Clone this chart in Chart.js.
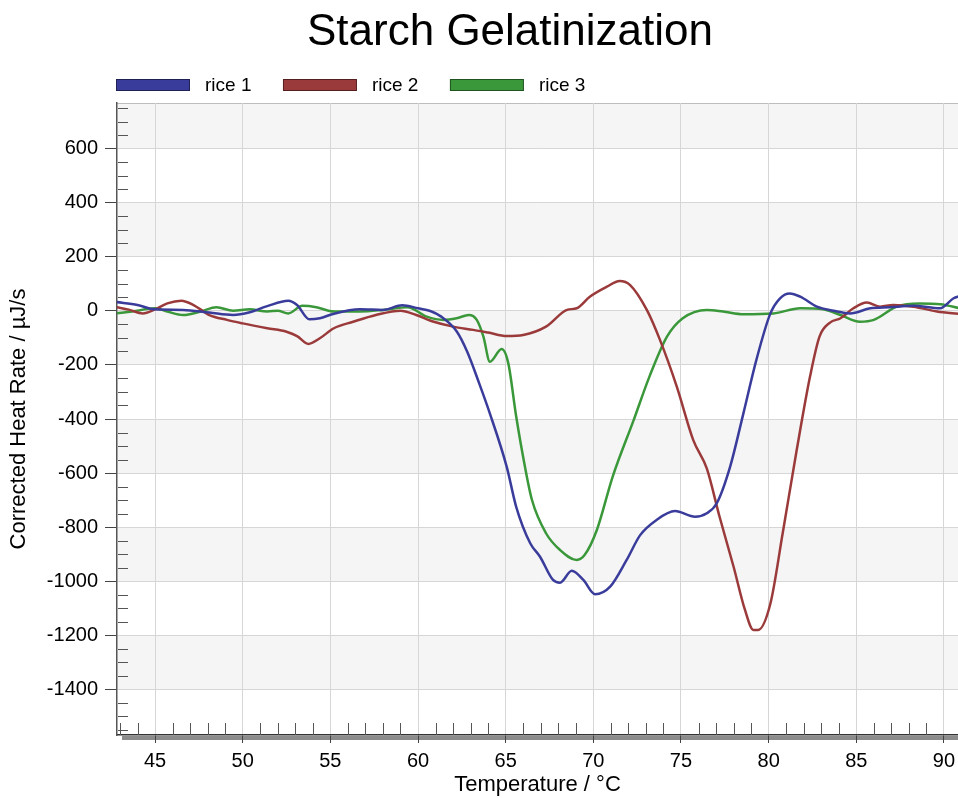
<!DOCTYPE html>
<html>
<head>
<meta charset="utf-8">
<title>Starch Gelatinization</title>
<script src="https://cdn.jsdelivr.net/npm/chart.js@4.4.1/dist/chart.umd.min.js"></script>
<style>
  html, body { margin: 0; padding: 0; background: #fff; }
  #chart { display: block; }
</style>
</head>
<body>
<canvas id="chart" width="958" height="798"></canvas>
<script>
/* Starch Gelatinization — DSC curves of three rice samples */

const chartTitle = 'Starch Gelatinization';
const xTitle = 'Temperature / °C';
const yTitle = 'Corrected Heat Rate / µJ/s';

const seriesNames = ['rice 1', 'rice 2', 'rice 3'];
const seriesColors = ['rgb(58, 60, 155)', 'rgb(155, 58, 58)', 'rgb(58, 152, 58)'];

// temperature (°C) / heat rate (µJ/s) pairs
const rice1Temp = [42.8, 44.0, 45.0, 46.6, 48.1, 49.45, 50.4, 51.4, 52.6, 53.1, 53.8, 54.4, 55.15, 56.7, 58.0, 59.1, 60.0, 60.7, 61.3, 62.2, 62.8, 63.5, 64.1, 65.06, 65.6, 66.4, 66.96, 67.7, 68.1, 68.77, 69.43, 70.1, 70.96, 71.9, 72.67, 73.6, 74.66, 75.8, 76.47, 77.04, 77.8, 78.56, 79.3, 80.1, 80.65, 81.2, 81.8, 82.75, 83.7, 84.65, 85.8, 86.9, 88.26, 89.78, 90.55, 90.9];
const rice1Heat = [33, 22, 6, 4, -6, -15, -5, 18, 38, 22, -31, -27, -11, 6, 4, 21, 10, 0, -20, -75, -150, -270, -380, -577, -725, -860, -910, -996, -1006, -962, -996, -1049, -1021, -922, -830, -774, -741, -762, -749, -712, -577, -379, -181, -9, 47, 65, 53, 16, 1, -9, 10, 14, 19, 10, 47, 55];

const rice2Temp = [42.8, 43.5, 44.3, 45.0, 45.7, 46.5, 47.2, 48.1, 49.1, 50.0, 51.4, 52.5, 53.1, 53.75, 54.4, 55.2, 56.3, 57.6, 59.0, 59.9, 60.9, 62.0, 63.15, 64.0, 65.06, 66.0, 67.3, 68.5, 69.05, 69.8, 70.77, 71.5, 72.1, 73.05, 73.8, 74.76, 75.7, 76.47, 77.2, 78.0, 78.65, 79.13, 79.4, 80.1, 80.8, 81.6, 82.36, 82.9, 83.5, 84.1, 84.83, 85.6, 86.36, 87.1, 88.26, 89.6, 90.9];
const rice2Heat = [14, 5, -9, 6, 28, 38, 22, -15, -33, -46, -64, -77, -93, -122, -101, -64, -40, -15, 1, -15, -40, -58, -70, -80, -93, -89, -58, 4, 10, 53, 90, 111, 96, 4, -107, -280, -478, -583, -762, -947, -1107, -1181, -1181, -1083, -823, -515, -243, -95, -43, -27, 10, 31, 16, 22, 16, -2, -11];

const rice3Temp = [42.8, 43.7, 45.0, 45.7, 46.6, 47.6, 48.5, 49.45, 50.4, 51.4, 52.0, 52.6, 53.4, 54.2, 55.2, 56.7, 58.0, 59.4, 60.5, 61.45, 62.2, 62.9, 63.35, 63.73, 64.1, 64.77, 65.15, 65.6, 66.1, 66.5, 67.3, 68.1, 69.05, 69.5, 70.2, 71.1, 72.3, 73.2, 74.2, 75.1, 76.47, 77.4, 78.56, 80.27, 81.8, 83.1, 84.1, 85.2, 86.0, 87.3, 88.6, 89.8, 90.9];
const rice3Heat = [-9, -2, 10, -2, -15, -2, 14, 1, 6, -2, 1, -9, 19, 14, -2, -2, 4, 14, -21, -33, -27, -15, -33, -95, -188, -141, -194, -391, -577, -700, -823, -885, -922, -904, -811, -614, -404, -243, -95, -27, 4, -2, -12, -9, 10, 6, -15, -40, -33, 16, 28, 25, 10];

const xTicks = [45, 50, 55, 60, 65, 70, 75, 80, 85, 90];
const yTicks = [-1400, -1200, -1000, -800, -600, -400, -200, 0, 200, 400, 600];
const xRange = [42.83, 90.8];
const yRange = [-1570, 770];

const fontFamily = '"Liberation Sans", Arial, Helvetica, sans-serif';

function toPoints(xs, ys) {
  return xs.map((x, i) => ({ x, y: ys[i] }));
}

const seriesData = [
  toPoints(rice1Temp, rice1Heat),
  toPoints(rice2Temp, rice2Heat),
  toPoints(rice3Temp, rice3Heat)
];

// fundo listrado, sombra do eixo x, ticks menores, título e legenda
const decorPlugin = {
  id: 'decor',
  beforeDraw(chart) {
    const { ctx, chartArea: a, scales: { y } } = chart;
    ctx.save();
    ctx.fillStyle = '#fff';
    ctx.fillRect(0, 0, chart.width, chart.height);

    const edges = [y.max, ...yTicks.slice().reverse(), y.min];
    for (let i = 0; i < edges.length - 1; i += 2) {
      const top = y.getPixelForValue(edges[i]);
      const bot = y.getPixelForValue(edges[i + 1]);
      ctx.fillStyle = '#f5f5f5';
      ctx.fillRect(a.left, top, a.right - a.left, bot - top);
    }

    // sombra cinza sob o eixo x
    ctx.fillStyle = '#8c8c8c';
    ctx.fillRect(a.left + 5, a.bottom + 1, a.right - a.left - 5, 4);

    // borda superior
    ctx.strokeStyle = '#bdbdbd';
    ctx.lineWidth = 1;
    ctx.beginPath();
    ctx.moveTo(a.left, a.top + 0.5);
    ctx.lineTo(a.right, a.top + 0.5);
    ctx.stroke();
    ctx.restore();
  },
  afterDraw(chart) {
    const { ctx, chartArea: a, scales: { x, y } } = chart;
    ctx.save();
    ctx.strokeStyle = '#555';
    ctx.lineWidth = 1;
    ctx.beginPath();
    for (let v = -1550; v <= 750; v += 50) {
      if (v % 200 === 0) continue;
      const py = Math.round(y.getPixelForValue(v)) + 0.5;
      ctx.moveTo(a.left + 1, py);
      ctx.lineTo(a.left + 11, py);
    }
    for (let v = 43; v <= 90; v++) {
      if (v % 5 === 0) continue;
      const px = Math.round(x.getPixelForValue(v)) + 0.5;
      ctx.moveTo(px, a.bottom - 12);
      ctx.lineTo(px, a.bottom);
    }
    ctx.stroke();

    // título
    ctx.fillStyle = '#000';
    ctx.font = '44px ' + fontFamily;
    ctx.textAlign = 'center';
    ctx.textBaseline = 'alphabetic';
    ctx.fillText(chartTitle, 510, 45);

    // legenda
    ctx.font = '19px ' + fontFamily;
    ctx.textAlign = 'left';
    let cx = 116;
    chart.data.datasets.forEach(ds => {
      ctx.fillStyle = ds.borderColor;
      ctx.fillRect(cx, 79, 74, 12);
      ctx.strokeStyle = 'rgba(0,0,0,0.45)';
      ctx.strokeRect(cx + 0.5, 79.5, 73, 11);
      ctx.fillStyle = '#000';
      ctx.fillText(ds.label, cx + 89, 91);
      cx += 89 + ctx.measureText(ds.label).width + 31.5;
    });
    ctx.restore();
  }
};

new Chart(document.getElementById('chart').getContext('2d'), {
  type: 'line',
  data: {
    datasets: seriesNames.map((name, i) => ({
      label: name,
      data: seriesData[i],
      borderColor: seriesColors[i],
      backgroundColor: seriesColors[i],
      borderWidth: 2.5,
      pointRadius: 0,
      fill: false,
      cubicInterpolationMode: 'monotone'
    }))
  },
  plugins: [decorPlugin],
  options: {
    responsive: false,
    animation: false,
    devicePixelRatio: 1,
    layout: { padding: { top: 103, left: 0, right: 0, bottom: 0 } },
    plugins: {
      legend: { display: false },
      title: { display: false },
      tooltip: { enabled: false }
    },
    scales: {
      x: {
        type: 'linear',
        min: xRange[0],
        max: xRange[1],
        afterBuildTicks: (s) => { s.ticks = xTicks.map(v => ({ value: v })); },
        afterFit: (s) => { s.height = 63; s.paddingLeft = 0; s.paddingRight = 0; },
        grid: { color: '#d6d6d6', tickColor: '#444', tickLength: 8 },
        border: { color: '#333', width: 1.5 },
        ticks: {
          color: '#000',
          font: { family: fontFamily, size: 20 },
          padding: 6,
          maxRotation: 0,
          callback: (v) => String(v)
        },
        title: {
          display: true,
          text: xTitle,
          color: '#000',
          font: { family: fontFamily, size: 22 },
          padding: { top: 0, bottom: 0 }
        }
      },
      y: {
        type: 'linear',
        min: yRange[0],
        max: yRange[1],
        afterBuildTicks: (s) => { s.ticks = yTicks.map(v => ({ value: v })); },
        afterFit: (s) => { s.width = 117; s.paddingTop = 0; s.paddingBottom = 0; },
        grid: { color: '#d6d6d6', tickColor: '#444', tickLength: 12 },
        border: { color: '#555', width: 1.5 },
        ticks: {
          color: '#000',
          font: { family: fontFamily, size: 20 },
          padding: 7,
          callback: (v) => String(v)
        },
        title: {
          display: true,
          text: yTitle,
          color: '#000',
          font: { family: fontFamily, size: 22 },
          padding: { top: 6, bottom: 0 }
        }
      }
    }
  }
});
</script>
</body>
</html>
